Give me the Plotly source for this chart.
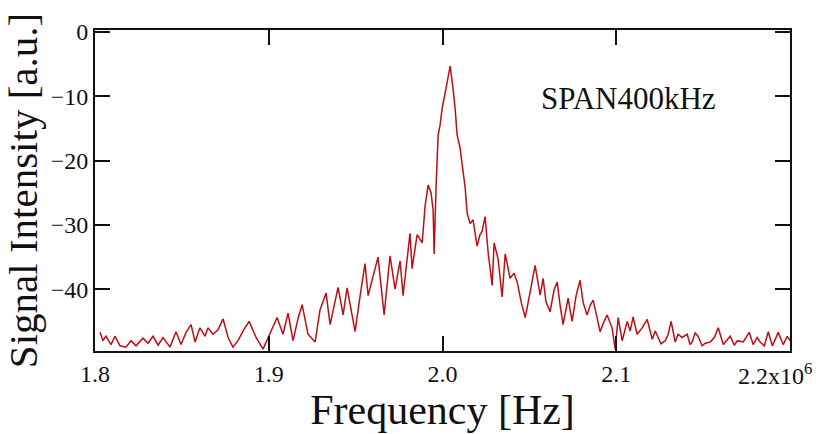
import plotly.graph_objects as go

# Frequency offsets (kHz above 1.8 MHz) and signal intensity (a.u.)
freq_khz = [
    2.9, 4.6, 6.3, 9.2, 11.5, 14.4, 17.8, 20.7, 23.6, 27.6, 30.5, 33.4, 36.3, 39.1, 43.2, 46.6,
    49.5, 52.4, 55.3, 57.6, 60.4, 63.3, 65.1, 67.9, 70.8, 73.7, 76.6, 79.4, 82.3, 85.2, 88.7,
    92.7, 96.7, 100.7, 104.8, 108.2, 111.1, 114.0, 116.9, 119.2, 122.6, 126.7, 129.5, 133.0,
    135.3, 139.9, 142.8, 145.1, 147.4, 149.7, 152.6, 155.4, 157.2, 160.0, 162.9, 166.4, 169.8,
    172.7, 175.6, 177.3, 179.6, 181.3, 182.5, 185.4, 188.3, 190.0, 191.7, 193.4, 194.6, 195.2,
    196.3, 197.5, 198.6, 199.8, 201.5, 202.6, 204.4, 206.1, 207.3, 208.4, 210.1, 211.3, 213.0,
    214.2, 215.9, 217.6, 219.9, 221.6, 222.8, 224.5, 226.3, 228.6, 229.7, 232.0, 234.3, 236.1,
    238.9, 241.2, 243.0, 245.3, 247.6, 250.4, 253.3, 256.2, 257.9, 259.6, 261.9, 264.3, 266.0,
    267.7, 269.4, 272.3, 274.6, 276.9, 279.2, 280.9, 283.2, 285.0, 286.7, 289.0, 290.7, 293.0,
    294.7, 297.6, 299.4, 301.1, 303.4, 306.3, 308.0, 309.7, 312.0, 314.9, 317.8, 320.7, 322.4,
    324.1, 325.8, 328.2, 329.9, 331.6, 333.9, 335.6, 337.9, 340.8, 342.5, 343.7, 345.4, 347.1,
    349.4, 351.2, 354.1, 356.4, 358.7, 361.6, 363.9, 365.6, 367.9, 369.7, 373.1, 376.5, 378.8,
    381.1, 382.8, 385.2, 387.5, 389.8, 391.5, 393.2, 396.1, 398.4, 400.0,
]
signal = [
    -46.7, -48.0, -47.3, -48.6, -47.3, -48.8, -49.0, -48.0, -48.8, -47.6, -48.4, -47.3, -48.7, -47.5, -49.0, -46.6,
    -48.6, -46.7, -45.5, -48.2, -46.0, -47.3, -46.0, -47.0, -46.3, -44.6, -47.5, -49.0, -48.0, -46.5, -45.0,
    -47.5, -49.3, -47.0, -44.4, -47.0, -43.7, -48.0, -44.5, -42.4, -47.0, -48.2, -43.2, -40.6,
    -45.5, -39.7, -44.0, -39.8, -43.0, -46.6, -41.0, -36.0, -41.0, -38.0, -35.0, -44.0, -34.8,
    -40.0, -35.6, -41.0, -35.0, -31.3, -36.8, -31.5, -32.8, -27.0, -23.8, -25.0, -27.7, -34.5,
    -24.0, -16.0, -14.5, -11.9, -9.5, -7.8, -5.3, -8.9, -12.0, -16.0, -18.0, -20.6, -24.1,
    -28.2, -29.8, -29.2, -33.3, -31.5, -31.0, -28.7, -34.4, -39.4, -32.8, -35.3, -41.2, -34.5,
    -38.3, -37.5, -38.9, -42.0, -44.4, -40.5, -36.3, -40.9, -38.3, -42.0, -43.5, -40.0, -38.9,
    -42.5, -45.5, -41.4, -45.0, -41.0, -38.6, -42.0, -44.0, -42.5, -41.7, -44.5, -46.6, -45.0,
    -44.0, -46.0, -49.3, -44.4, -48.0, -45.0, -46.5, -44.3, -47.0, -46.0, -44.7, -47.8, -46.5,
    -47.5, -48.5, -48.0, -47.0, -45.0, -48.2, -47.0, -47.5, -47.0, -48.6, -48.2, -46.8, -47.3,
    -48.8, -48.4, -48.2, -47.5, -46.0, -48.6, -47.8, -47.3, -48.7, -48.0, -48.2, -46.7, -48.6,
    -47.5, -48.2, -48.8, -46.6, -48.8, -47.8, -46.7, -48.6, -47.3, -48.0,
]

x_tick_vals = [1.8e6, 1.9e6, 2.0e6, 2.1e6]
x_tick_text = ["1.8", "1.9", "2.0", "2.1"]
x_last_label = "2.2x10<sup>6</sup>"
y_tick_vals = [0, -10, -20, -30, -40]

freq_hz = [1.8e6 + k * 1e3 for k in freq_khz]

SERIF = "Liberation Serif"
INK = "#111"

fig = go.Figure()
fig.add_trace(go.Scatter(
    x=freq_hz, y=signal, mode="lines",
    line=dict(color="#c00d14", width=1.5),
    showlegend=False,
))

fig.update_layout(
    width=830, height=434,
    margin=dict(l=95, r=40, t=30, b=77),
    paper_bgcolor="white", plot_bgcolor="white",
    font=dict(family=SERIF, color=INK),
    xaxis=dict(
        range=[1.8e6, 2.2e6],
        tickvals=x_tick_vals, ticktext=x_tick_text,
        ticks="inside", ticklen=15, tickwidth=1.5, tickcolor=INK,
        showline=True, linecolor=INK, linewidth=2, mirror="ticks",
        showgrid=False, zeroline=False,
        tickfont=dict(family=SERIF, size=24, color=INK),
        title=dict(text="Frequency [Hz]", font=dict(family=SERIF, size=42, color=INK), standoff=6),
    ),
    yaxis=dict(
        range=[-49.6, 0.3],
        tickvals=y_tick_vals,
        ticks="inside", ticklen=15, tickwidth=1.5, tickcolor=INK,
        showline=True, linecolor=INK, linewidth=2, mirror="ticks",
        showgrid=False, zeroline=False,
        tickfont=dict(family=SERIF, size=24, color=INK),
        title=dict(text="Signal Intensity [a.u.]", font=dict(family=SERIF, size=41, color=INK), standoff=4),
    ),
    annotations=[
        dict(x=2.2e6, y=0, xref="x", yref="paper", xanchor="right", yanchor="top",
             xshift=24, yshift=-6, showarrow=False,
             text=x_last_label, font=dict(family=SERIF, size=24, color=INK)),
        dict(x=0.768, y=0.786, xref="paper", yref="paper", xanchor="center", yanchor="middle",
             showarrow=False, text="SPAN400kHz", font=dict(family=SERIF, size=31, color=INK)),
    ],
)

fig.write_html("out.html")
